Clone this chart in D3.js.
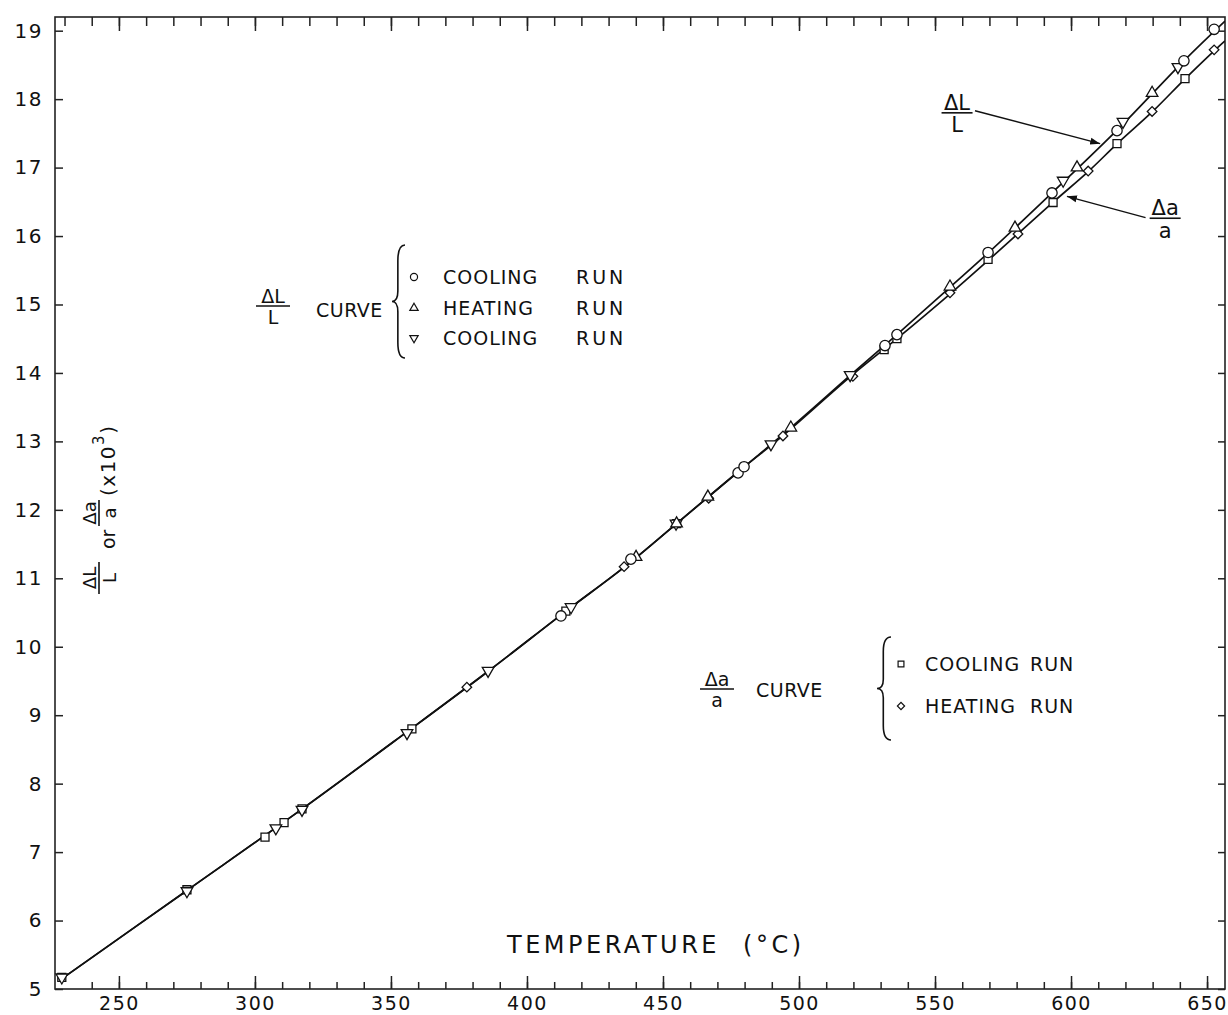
<!DOCTYPE html>
<html>
<head>
<meta charset="utf-8">
<script src="https://cdn.jsdelivr.net/npm/d3@7"></script>
<style>
  body { margin: 0; background: #fff; }
  svg { display: block; font-family: "DejaVu Sans", sans-serif; }
  text { fill: #111; }
</style>
</head>
<body>
<div id="chart"></div>
<script>
// drawn curves, temperature (C) vs value (x10^3)
var curveL = [[228.3,5.13],[275,6.44],[317,7.62],[356,8.76],[386,9.65],[414,10.51],[436,11.17],[455,11.80],[479,12.6],
  [497,13.2],[519,13.97],[536,14.56],[556,15.27],[570,15.77],[593,16.63],[617,17.55],[641.5,18.56],[656.6,19.14]];
var curveA = [[228.3,5.13],[275,6.44],[317,7.62],[356,8.76],[386,9.65],[414,10.51],[436,11.17],[455,11.80],[479,12.6],
  [494,13.08],[519,13.95],[536,14.50],[556,15.17],[570,15.66],[593,16.48],[606,16.93],[617,17.35],[630,17.82],[642,18.30],[653,18.72],[656.6,18.85]];

// measured points
var lCool1 = [[412.5,10.45],[438.2,11.28],[477.6,12.54],[479.8,12.63],[531.6,14.40],[536,14.56],[569.5,15.76],[593,16.63],[616.9,17.54],[641.5,18.56],[652.6,19.02]];
var lHeat = [[440.1,11.31],[455,11.80],[466.5,12.19],[497,13.2],[555.5,15.26],[579.4,16.12],[602.2,17.0],[629.8,18.09]];
var lCool2 = [[229,5.17],[275,6.43],[307.7,7.35],[317.3,7.62],[355.9,8.74],[385.7,9.65],[416.2,10.58],[454.8,11.80],[489.7,12.96],[518.8,13.97],[597.1,16.81],[619.1,17.67],[639.3,18.47]];
var aCool = [[229,5.17],[275,6.45],[303.7,7.22],[310.7,7.43],[317.3,7.63],[357.7,8.80],[414.3,10.52],[455,11.8],[531.3,14.34],[536,14.50],[569.5,15.66],[593.4,16.49],[616.9,17.35],[641.9,18.30]];
var aHeat = [[377.9,9.41],[435.7,11.17],[466.8,12.17],[494.1,13.08],[519.8,13.95],[555.5,15.17],[580.5,16.03],[606.3,16.95],[629.8,17.82],[652.6,18.72]];

var xMajor = d3.range(250, 651, 50);
var xMinorTop = d3.range(230, 651, 10);
var xMinorBottom = d3.range(240, 651, 10);
var yTicks = d3.range(5, 20, 1);

var W = 1228, H = 1015;
var svg = d3.select('#chart').append('svg').attr('width', W).attr('height', H);

var x = d3.scaleLinear().domain([226.5, 656.6]).range([55, 1225]);
var y = d3.scaleLinear().domain([5, 19.2]).range([989, 17]);

svg.append('defs').append('clipPath').attr('id', 'plot')
  .append('rect').attr('x', 55).attr('y', 17).attr('width', 1170).attr('height', 972);

// axes: ticks point inward
function styleAxis(g) {
  g.selectAll('.domain').remove();
  g.selectAll('line').attr('stroke', '#222').attr('stroke-width', 1.5);
  g.selectAll('text').attr('font-size', 20).attr('letter-spacing', 1.5)
    .attr('font-family', '"DejaVu Sans", sans-serif').attr('fill', '#111');
}

svg.append('g').attr('transform', 'translate(0,989)')
  .call(d3.axisBottom(x).tickValues(xMinorBottom).tickSize(-7).tickFormat(''))
  .call(styleAxis);
var bottomMajor = svg.append('g').attr('transform', 'translate(0,989)')
  .call(d3.axisBottom(x).tickValues(xMajor).tickSize(-13).tickPadding(8).tickFormat(d3.format('d')))
  .call(styleAxis);
bottomMajor.selectAll('text').attr('font-size', 19);
svg.append('g').attr('transform', 'translate(0,17)')
  .call(d3.axisTop(x).tickValues(xMinorTop).tickSize(-9).tickFormat(''))
  .call(styleAxis);
svg.append('g').attr('transform', 'translate(0,17)')
  .call(d3.axisTop(x).tickValues(xMajor).tickSize(-14).tickFormat(''))
  .call(styleAxis);
svg.append('g').attr('transform', 'translate(55,0)')
  .call(d3.axisLeft(y).tickValues(yTicks).tickSize(-8).tickPadding(12).tickFormat(d3.format('d')))
  .call(styleAxis);
svg.append('g').attr('transform', 'translate(1225,0)')
  .call(d3.axisRight(y).tickValues(yTicks).tickSize(-7).tickFormat(''))
  .call(styleAxis);

svg.append('rect').attr('x', 55).attr('y', 17).attr('width', 1170).attr('height', 972)
  .attr('fill', 'none').attr('stroke', '#222').attr('stroke-width', 1.6);

// curves
var line = d3.line().x(function (d) { return x(d[0]); }).y(function (d) { return y(d[1]); })
  .curve(d3.curveCatmullRom.alpha(0.5));
var curves = svg.append('g').attr('clip-path', 'url(#plot)');
[curveL, curveA].forEach(function (c) {
  curves.append('path').attr('d', line(c)).attr('fill', 'none')
    .attr('stroke', '#111').attr('stroke-width', 1.7);
});

// markers
var markerSets = [
  { data: aCool, type: d3.symbolSquare, size: 64, rot: 0 },
  { data: aHeat, type: d3.symbolSquare, size: 46, rot: 45 },
  { data: lCool2, type: d3.symbolTriangle, size: 58, rot: 180 },
  { data: lHeat, type: d3.symbolTriangle, size: 58, rot: 0 },
  { data: lCool1, type: d3.symbolCircle, size: 84, rot: 0 }
];
markerSets.forEach(function (s) {
  svg.append('g').selectAll('path').data(s.data).enter().append('path')
    .attr('d', d3.symbol().type(s.type).size(s.size))
    .attr('transform', function (d) { return 'translate(' + x(d[0]) + ',' + y(d[1]) + ') rotate(' + s.rot + ')'; })
    .attr('fill', '#fff').attr('stroke', '#111').attr('stroke-width', 1.3);
});

// helpers
function frac(g, cx, ly, num, den, size, w) {
  g.append('text').attr('x', cx).attr('y', ly - 3).attr('text-anchor', 'middle')
    .attr('font-size', size).text(num);
  g.append('line').attr('x1', cx - w / 2).attr('x2', cx + w / 2).attr('y1', ly).attr('y2', ly)
    .attr('stroke', '#111').attr('stroke-width', 1.6);
  g.append('text').attr('x', cx).attr('y', ly + size * 0.93).attr('text-anchor', 'middle')
    .attr('font-size', size).text(den);
}
function brace(g, x0, y0, y1, w) {
  var h = y1 - y0, m = (y0 + y1) / 2, xs = x0 + w * 0.45;
  var p = 'M' + (x0 + w) + ',' + y0 + ' Q' + xs + ',' + y0 + ' ' + xs + ',' + (y0 + h * 0.14) +
    ' L' + xs + ',' + (m - h * 0.09) + ' Q' + xs + ',' + m + ' ' + x0 + ',' + m +
    ' Q' + xs + ',' + m + ' ' + xs + ',' + (m + h * 0.09) +
    ' L' + xs + ',' + (y1 - h * 0.14) + ' Q' + xs + ',' + y1 + ' ' + (x0 + w) + ',' + y1;
  g.append('path').attr('d', p).attr('fill', 'none').attr('stroke', '#111').attr('stroke-width', 1.6);
}
function label(g, tx, ty, str, ls) {
  g.append('text').attr('x', tx).attr('y', ty).attr('font-size', 19)
    .attr('letter-spacing', ls || 1).text(str);
}
function legendSymbol(g, cx, cy, type, size, rot) {
  g.append('path').attr('d', d3.symbol().type(type).size(size)())
    .attr('transform', 'translate(' + cx + ',' + cy + ') rotate(' + rot + ')')
    .attr('fill', '#fff').attr('stroke', '#111').attr('stroke-width', 1.2);
}

// legend for dL/L
var leg1 = svg.append('g');
frac(leg1, 273, 306, '\u0394L', 'L', 19, 34);
label(leg1, 316, 317, 'CURVE', 0.5);
brace(leg1, 392, 245, 358, 13);
var rows1 = [
  { y: 277, type: d3.symbolCircle, size: 40, rot: 0, a: 'COOLING' },
  { y: 308, type: d3.symbolTriangle, size: 30, rot: 0, a: 'HEATING' },
  { y: 338, type: d3.symbolTriangle, size: 30, rot: 180, a: 'COOLING' }
];
rows1.forEach(function (r) {
  legendSymbol(leg1, 414, r.y, r.type, r.size, r.rot);
  label(leg1, 443, r.y + 7, r.a);
  label(leg1, 576, r.y + 7, 'RUN', 3);
});

// legend for da/a
var leg2 = svg.append('g');
frac(leg2, 717, 689, '\u0394a', 'a', 19, 34);
label(leg2, 756, 697, 'CURVE', 0.5);
brace(leg2, 877, 637, 740, 14);
legendSymbol(leg2, 901, 664, d3.symbolSquare, 34, 0);
label(leg2, 925, 671, 'COOLING');
label(leg2, 1030, 671, 'RUN');
legendSymbol(leg2, 901, 706, d3.symbolSquare, 26, 45);
label(leg2, 925, 713, 'HEATING');
label(leg2, 1030, 713, 'RUN');

// curve labels with arrows
svg.append('defs').append('marker').attr('id', 'arrow').attr('viewBox', '0 0 10 10')
  .attr('refX', 10).attr('refY', 5).attr('markerWidth', 10).attr('markerHeight', 10)
  .attr('markerUnits', 'userSpaceOnUse').attr('orient', 'auto')
  .append('path').attr('d', 'M0,1.5 L10,5 L0,8.5 Z').attr('fill', '#111');

var notes = [
  { num: '\u0394L', den: 'L', at: [558.1, 17.8], from: [564.7, 17.83], to: [610.7, 17.35] },
  { num: '\u0394a', den: 'a', at: [634.6, 16.26], from: [627.4, 16.27], to: [598.5, 16.58] }
];
var ann = svg.append('g');
notes.forEach(function (n) {
  frac(ann, x(n.at[0]), y(n.at[1]), n.num, n.den, 21, 31);
  ann.append('line').attr('x1', x(n.from[0])).attr('y1', y(n.from[1]))
    .attr('x2', x(n.to[0])).attr('y2', y(n.to[1]))
    .attr('stroke', '#111').attr('stroke-width', 1.4).attr('marker-end', 'url(#arrow)');
});

// y axis title, rotated
var yt = svg.append('g').attr('transform', 'translate(117,595) rotate(-90)');
frac(yt, 17, -18, '\u0394L', 'L', 18, 32);
yt.append('text').attr('x', 46).attr('y', -2).attr('font-size', 19).text('or');
frac(yt, 82, -18, '\u0394a', 'a', 18, 26);
var yx = yt.append('text').attr('x', 99).attr('y', -2).attr('font-size', 20).attr('letter-spacing', 1.5);
yx.append('tspan').text('(x10');
yx.append('tspan').attr('dy', -11).attr('font-size', 15).text('3');
yx.append('tspan').attr('dy', 11).text(')');

// x axis title
svg.append('text').attr('x', 507).attr('y', 953).attr('font-size', 24)
  .attr('letter-spacing', 3.5).attr('word-spacing', 12).text('TEMPERATURE (\u00B0C)');
</script>
</body>
</html>
